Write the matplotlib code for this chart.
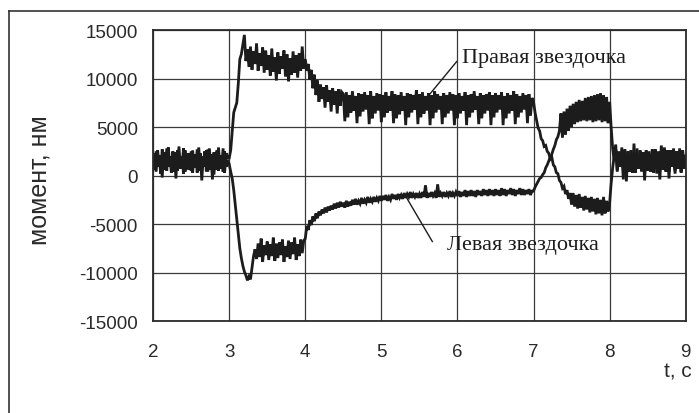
import matplotlib
matplotlib.use("Agg")
import matplotlib.pyplot as plt
import numpy as np
from matplotlib.lines import Line2D

plt.rcParams["axes.unicode_minus"] = False

# sampled every 0.02 s, one row = 0.5 s (25 samples)
T_START = 2.0
DT = 0.02

right_rows = [
    [2100, 600, 2500, 900, 1900, 200, 2700, 800, 2200, 500, 2900, 1000, 1800, 400, 2400, -300, 2600, 700, 2000, 900, 2800, 400, 2300, 600, 2100],
    [500, 2600, 800, 2200, 300, 2900, 700, 1900, 1000, 2500, 400, 2700, 600, 2100, -400, 2400, 900, 2600, 500, 2000, 700, 2800, 300, 2300, 1800],
    [1800, 2600, 4500, 6500, 7000, 7500, 9500, 12000, 12500, 13500, 14500, 11800, 13000, 11200, 13300, 10900, 12800, 11500, 13600, 10800, 12600, 11300, 13200, 10600, 12900],
    [10900, 12400, 10300, 13100, 10700, 12200, 9800, 12700, 10500, 12300, 11000, 12900, 10200, 12500, 9700, 12100, 10400, 12800, 10600, 12400, 10100, 12600, 10800, 13300, 11000],
    [12000, 10800, 11500, 9900, 10900, 9000, 10400, 8300, 9800, 7600, 9400, 7900, 9100, 7000, 9300, 7600, 8800, 6600, 9000, 7300, 8700, 6400, 8900, 7200, 8600],
    [8400, 5600, 8600, 6000, 8300, 6500, 8700, 6700, 8200, 5400, 8500, 6100, 8400, 6600, 8600, 6800, 8300, 5300, 8700, 5900, 8200, 6400, 8500, 6700, 8400],
    [5500, 8300, 6000, 8600, 6500, 8200, 6700, 8700, 5400, 8400, 5900, 8300, 6300, 8600, 6700, 8200, 5200, 8500, 6000, 8400, 6500, 8300, 6800, 8800, 5300],
    [8400, 6000, 8600, 6400, 8200, 6700, 8500, 5200, 8300, 5900, 8700, 6500, 8400, 6800, 8200, 5300, 8500, 6000, 8300, 6400, 8600, 6700, 8400, 5200, 8300],
    [5900, 8500, 6400, 8200, 6700, 8600, 5200, 8300, 6000, 8400, 6500, 8700, 6800, 8200, 5300, 8500, 5900, 8300, 6400, 8400, 6700, 8600, 5200, 8300, 6000],
    [8500, 6500, 8300, 6800, 8600, 5200, 8200, 5900, 8500, 6400, 8300, 6700, 8700, 5300, 8400, 6000, 8200, 6500, 8500, 6800, 8300, 5400, 8400, 6200, 8000],
    [7600, 6500, 5700, 4900, 4600, 3800, 3600, 3000, 3100, 2500, 2300, 1700, 1900, 1100, 900, 300, 200, -500, -700, -1300, -1100, -1900, -1500, -2400, -1800],
    [-3000, -1800, -3200, -2000, -3400, -1900, -3300, -2200, -3600, -2100, -3500, -2300, -3800, -2200, -3700, -2400, -4000, -2300, -3900, -2500, -4100, -2200, -3900, -2600, -3700],
    [-2800, -800, 800, 2000, 3200, 600, 2500, 900, 2300, -400, 2700, 800, 2100, 400, 2600, 1000, 2200, 300, 2800, 700, 1900, 500, 2400, -500, 2600],
    [800, 2100, 400, 2700, 900, 2300, 200, 2500, 600, 3100, 800, 2000, 400, 2600, -300, 2200, 900, 2800, 500, 2400, 700, 2100, 300, 2600, 900],
    [2000],
]

left_rows = [
    [700, 2300, 400, 2600, 1000, 2100, -200, 2400, 600, 2800, 900, 2000, 300, 2500, 800, 2200, 500, 3000, 700, 1900, 200, 2600, 1000, 2300, 600],
    [2500, 300, 2100, 800, 2700, 500, 2300, -500, 2000, 900, 2600, 400, 2800, 700, 2200, 100, 2400, 600, 2900, 800, 2100, 400, 2500, 900, 1600],
    [1200, 400, -300, -1500, -3000, -4500, -6000, -7500, -8500, -9300, -9900, -10300, -10800, -10400, -10700, -9500, -8300, -7600, -8600, -7000, -8400, -6500, -8900, -7200, -8200],
    [-6800, -8700, -7100, -8300, -6400, -8800, -7000, -8500, -6900, -8200, -6600, -8900, -7300, -8400, -6700, -8600, -6900, -8100, -6400, -8700, -7100, -8300, -6600, -8000, -6700],
    [-6500, -5200, -5600, -4600, -5100, -4200, -4700, -3900, -4400, -3700, -4100, -3500, -3900, -3300, -3800, -3200, -3600, -3100, -3500, -2900, -3400, -2800, -3300, -2700, -3200],
    [-2800, -3300, -2600, -3200, -2700, -3100, -2500, -3000, -2400, -3000, -2600, -2900, -2300, -2900, -2500, -2800, -2200, -2800, -2400, -2700, -2200, -2700, -2300, -2600, -2100],
    [-2600, -2100, -2500, -2000, -2600, -2200, -2500, -1900, -2400, -2000, -2500, -1900, -2300, -2000, -2400, -1800, -2300, -1900, -2200, -1700, -2300, -1900, -2200, -1800, -2300],
    [-1900, -2300, -1700, -2200, -1000, -2300, -1800, -2200, -1700, -2100, -1800, -2300, -900, -2200, -1800, -2100, -1700, -2200, -1800, -2100, -1600, -2200, -1800, -2100, -1700],
    [-2100, -1600, -2200, -1700, -2100, -1500, -2200, -1600, -2100, -1500, -2100, -1600, -2200, -1500, -2000, -1600, -2100, -1400, -2000, -1500, -2100, -1400, -2000, -1500, -2100],
    [-1400, -2000, -1500, -2100, -1300, -2000, -1400, -2100, -1500, -1900, -1300, -2000, -1400, -2100, -1500, -1900, -1300, -2000, -1400, -2000, -1500, -1900, -1400, -2000, -1600],
    [-1600, -1200, -900, -600, -300, -200, 100, 300, 800, 1100, 1500, 1900, 2200, 2700, 3100, 3700, 4000, 4600, 6400, 3900, 6600, 4200, 6900, 4600, 7200],
    [5000, 7400, 5300, 7600, 5500, 7800, 5600, 7700, 5700, 8000, 5600, 8100, 5700, 8200, 5500, 8300, 5600, 8400, 5700, 8500, 5500, 8300, 5600, 8100, 5400],
    [7600, 5000, 2800, 1500, 2700, 400, 2300, 1000, 2900, 600, 2100, -600, 2500, 800, 2200, 300, 3300, 700, 2000, 900, 2600, 400, 2400, 600, 2100],
    [500, 2500, 800, 2200, 300, 2700, 1000, 2000, -400, 2400, 600, 2900, 700, 2300, 400, 2600, 900, 2100, 200, 2500, 700, 2800, 400, 2200, 700],
    [1400],
]

for name, rows in (("right", right_rows), ("left", left_rows)):
    for i, r in enumerate(rows[:-1]):
        assert len(r) == 25, f"{name} row {i} has {len(r)} values"

right = np.concatenate([np.array(r, dtype=float) for r in right_rows])
left = np.concatenate([np.array(r, dtype=float) for r in left_rows])
t = T_START + DT * np.arange(len(right))

x_ticks = [2, 3, 4, 5, 6, 7, 8, 9]
y_ticks = [-15000, -10000, -5000, 0, 5000, 10000, 15000]

fig = plt.figure(figsize=(6.99, 4.14), dpi=100)
ax = fig.add_axes([0.219, 0.222, 0.762, 0.703])

ink = "#1c1c1c"
ax.plot(t, right, color=ink, lw=2.0, solid_joinstyle="miter")
ax.plot(t, left, color=ink, lw=2.0, solid_joinstyle="miter")

ax.set_xlim(2, 9)
ax.set_ylim(-15000, 15000)
ax.set_xticks(x_ticks)
ax.set_yticks(y_ticks)
ax.grid(True, color="#3a3a3a", lw=0.9)
ax.set_axisbelow(True)
for s in ax.spines.values():
    s.set_linewidth(1.3)
    s.set_color("#2a2a2a")

sans = ["Liberation Sans", "DejaVu Sans"]
serif = ["Liberation Serif", "DejaVu Serif"]
ax.tick_params(axis="y", length=0, pad=11, labelsize=13.5, colors="#2a2a2a")
ax.tick_params(axis="x", length=0, pad=16, labelsize=13.5, colors="#2a2a2a")
for lbl in ax.get_xticklabels() + ax.get_yticklabels():
    lbl.set_family(sans)

ax.set_ylabel("момент, нм", family=sans, fontsize=18, color="#2a2a2a")
ax.yaxis.set_label_coords(-0.19, 0.488)
fig.text(0.99, 0.089, "t, с", family=sans, fontsize=15, color="#2a2a2a",
         ha="right", va="baseline")

# callouts
ax.text(6.06, 12170, "Правая звездочка", family=serif, fontsize=16,
        color=ink, va="center", ha="left")
ax.plot([5.99, 5.57], [11750, 7760], color=ink, lw=1.0)
ax.text(5.86, -7130, "Левая звездочка", family=serif, fontsize=16,
        color=ink, va="center", ha="left")
ax.plot([5.67, 5.31], [-6800, -2000], color=ink, lw=1.0)

# outer frame of the scanned figure
fig.add_artist(Line2D([0.013, 0.013], [0.971, 0.0], transform=fig.transFigure,
                      color="#333333", lw=1.2))
fig.add_artist(Line2D([0.013, 1.0], [0.971, 0.971], transform=fig.transFigure,
                      color="#333333", lw=1.2))

fig.savefig("out.png", dpi=100)
